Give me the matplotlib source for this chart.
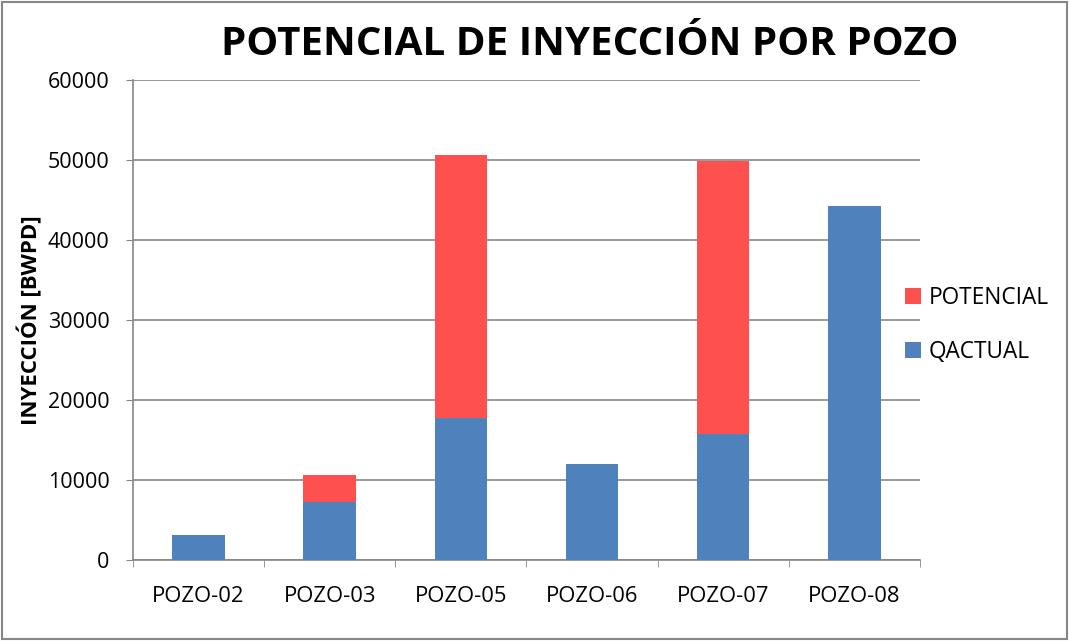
import matplotlib
matplotlib.use("Agg")
import matplotlib.pyplot as plt
import numpy as np

pozos = ["POZO-02", "POZO-03", "POZO-05", "POZO-06", "POZO-07", "POZO-08"]
qactual = [3150, 7200, 17800, 12000, 15700, 44300]
potencial = [0, 3400, 32800, 0, 34200, 0]

plt.rcParams['font.family'] = ['Open Sans', 'DejaVu Sans']

fig = plt.figure(figsize=(10.69, 6.41), dpi=100)
ax = fig.add_axes([0.1244, 0.1264, 0.7362, 0.7486])

x = np.arange(len(pozos))
b1 = ax.bar(x, qactual, width=0.4, color="#4F81BD", label="QACTUAL", zorder=3)
b2 = ax.bar(x, potencial, width=0.4, bottom=qactual, color="#FF5050", label="POTENCIAL", zorder=3)

ax.set_xlim(-0.5, len(pozos) - 0.5)
ax.set_ylim(0, 60000)
ax.set_yticks(range(0, 60001, 10000))
ax.set_xticks(x)
ax.set_xticklabels(pozos, fontsize=15.8)
ax.tick_params(axis='x', length=0, pad=19)
ax.set_xticks(np.arange(-0.5, len(pozos)), minor=True)
ax.tick_params(axis='x', which='minor', length=5, color="#878787", direction='out')
ax.tick_params(axis='y', labelsize=15.5, length=5, color="#878787", direction='out', pad=12)
ax.grid(axis='y', color="#878787", linewidth=1.2, zorder=0)
for s in ["top", "right"]:
    ax.spines[s].set_visible(False)
for s in ["left", "bottom"]:
    ax.spines[s].set_color("#878787")
    ax.spines[s].set_linewidth(1.2)

ax.set_ylabel("INYECCIÓN [BWPD]", fontsize=16, fontweight='bold')
ax.yaxis.set_label_coords(-0.115, 0.5)
fig.text(0.552, 0.93, "POTENCIAL DE INYECCIÓN POR POZO", ha='center', va='center',
         fontsize=29, fontweight='bold')

handles = [b2, b1]
ax.legend(handles, ["POTENCIAL", "QACTUAL"], loc='center left', bbox_to_anchor=(0.981, 0.49),
          frameon=False, fontsize=16.3, handlelength=0.7, handleheight=0.7, labelspacing=1.3,
          handletextpad=0.33, borderpad=0, borderaxespad=0)

fig.patches.append(plt.Rectangle((0.002, 0.003), 0.996, 0.994, transform=fig.transFigure,
                                 fill=False, edgecolor="#878787", linewidth=1.5))

fig.savefig("out.png", dpi=100)
